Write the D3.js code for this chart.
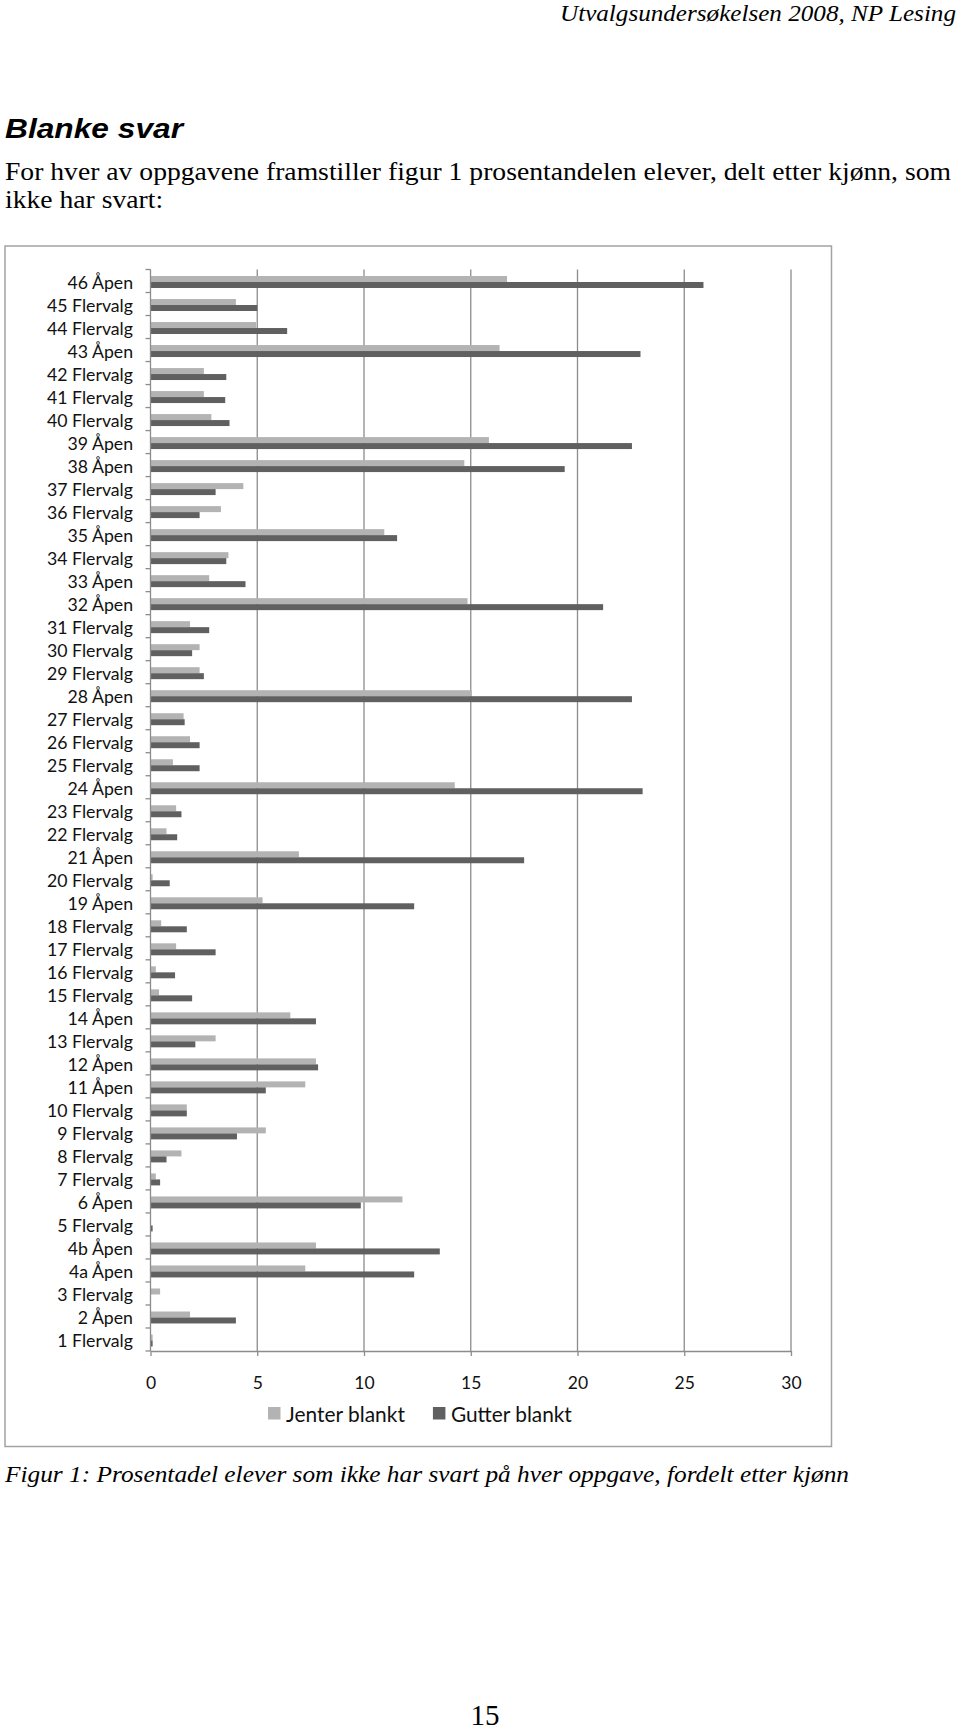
<!DOCTYPE html>
<html>
<head>
<meta charset="utf-8">
<script src="https://cdn.jsdelivr.net/npm/d3@7"></script>
<style>
  body { margin: 0; background: #fff; }
  svg { display: block; }
</style>
</head>
<body>
<svg id="page" width="960" height="1731"></svg>
<script>
// ---------- data ----------
const categories = [
  "46 Åpen","45 Flervalg","44 Flervalg","43 Åpen","42 Flervalg","41 Flervalg","40 Flervalg",
  "39 Åpen","38 Åpen","37 Flervalg","36 Flervalg","35 Åpen","34 Flervalg","33 Åpen","32 Åpen",
  "31 Flervalg","30 Flervalg","29 Flervalg","28 Åpen","27 Flervalg","26 Flervalg","25 Flervalg",
  "24 Åpen","23 Flervalg","22 Flervalg","21 Åpen","20 Flervalg","19 Åpen","18 Flervalg",
  "17 Flervalg","16 Flervalg","15 Flervalg","14 Åpen","13 Flervalg","12 Åpen","11 Åpen",
  "10 Flervalg","9 Flervalg","8 Flervalg","7 Flervalg","6 Åpen","5 Flervalg","4b Åpen",
  "4a Åpen","3 Flervalg","2 Åpen","1 Flervalg"
];
const jenter = [
  16.7, 4.0, 4.95, 16.35, 2.5, 2.5, 2.85,
  15.85, 14.7, 4.35, 3.3, 10.95, 3.65, 2.75, 14.85,
  1.85, 2.3, 2.3, 15.05, 1.55, 1.85, 1.05,
  14.25, 1.2, 0.75, 6.95, 0.1, 5.25, 0.5,
  1.2, 0.25, 0.4, 6.55, 3.05, 7.75, 7.25,
  1.7, 5.4, 1.45, 0.25, 11.8, 0.0, 7.75,
  7.25, 0.45, 1.85, 0.1
];
const gutter = [
  25.9, 5.0, 6.4, 22.95, 3.55, 3.5, 3.7,
  22.55, 19.4, 3.05, 2.3, 11.55, 3.55, 4.45, 21.2,
  2.75, 1.95, 2.5, 22.55, 1.6, 2.3, 2.3,
  23.05, 1.45, 1.25, 17.5, 0.9, 12.35, 1.7,
  3.05, 1.15, 1.95, 7.75, 2.1, 7.85, 5.4,
  1.7, 4.05, 0.75, 0.45, 9.85, 0.1, 13.55,
  12.35, 0.0, 4.0, 0.1
];
const xTicks = [0, 5, 10, 15, 20, 25, 30];
const seriesNames = ["Jenter blankt", "Gutter blankt"];
const seriesColors = ["#b3b3b3", "#606060"];

const headerText = "Utvalgsundersøkelsen 2008, NP Lesing";
const titleText = "Blanke svar";
const introLines = [
  "For hver av oppgavene framstiller figur 1 prosentandelen elever, delt etter kjønn, som",
  "ikke har svart:"
];
const captionText = "Figur 1: Prosentadel elever som ikke har svart på hver oppgave, fordelt etter kjønn";
const pageNumber = "15";

// ---------- page ----------
const svg = d3.select("#page");
const SERIF = "'Liberation Serif','Times New Roman',Times,serif";
const SANS = "'Liberation Sans',Arial,sans-serif";
const CHART_FONT = "Lato, 'Open Sans', sans-serif";

function fitText(sel, targetWidth) {
  const w = sel.node().getComputedTextLength();
  const fs = parseFloat(sel.attr("font-size"));
  sel.attr("font-size", fs * targetWidth / w);
}

// header
svg.append("text").attr("x", 560).attr("y", 21)
  .attr("font-family", SERIF).attr("font-style", "italic").attr("font-size", 23.5)
  .attr("textLength", 396).attr("lengthAdjust", "spacingAndGlyphs")
  .attr("fill", "#000").text(headerText);

// title
svg.append("text").attr("x", 5).attr("y", 138)
  .attr("font-family", SANS).attr("font-style", "italic").attr("font-weight", "bold")
  .attr("font-size", 27.5).attr("textLength", 178).attr("lengthAdjust", "spacingAndGlyphs")
  .text(titleText);

// intro paragraph
const l1 = svg.append("text").attr("x", 5).attr("y", 180)
  .attr("font-family", SERIF).attr("font-size", 24.5).text(introLines[0]);
const ratio = 946 / l1.node().getComputedTextLength();
l1.attr("textLength", 946).attr("lengthAdjust", "spacingAndGlyphs");
const l2 = svg.append("text").attr("x", 5).attr("y", 208)
  .attr("font-family", SERIF).attr("font-size", 24.5).text(introLines[1]);
l2.attr("textLength", l2.node().getComputedTextLength() * ratio).attr("lengthAdjust", "spacingAndGlyphs");

// caption
svg.append("text").attr("x", 5).attr("y", 1482)
  .attr("font-family", SERIF).attr("font-style", "italic").attr("font-size", 23.5)
  .attr("textLength", 844).attr("lengthAdjust", "spacingAndGlyphs")
  .text(captionText);

// page number
svg.append("text").attr("x", 485).attr("y", 1725).attr("text-anchor", "middle")
  .attr("font-family", SERIF).attr("font-size", 29).attr("textLength", 29)
  .attr("lengthAdjust", "spacingAndGlyphs").text(pageNumber);

// ---------- chart ----------
svg.append("rect").attr("x", 5).attr("y", 246).attr("width", 826.5).attr("height", 1200.5)
  .attr("fill", "#fff").attr("stroke", "#a3a3a3").attr("stroke-width", 1.5);

const yTop = 269.5, yBottom = 1351;
const x = d3.scaleLinear().domain([0, 30]).range([150.5, 791]);
const y = d3.scaleBand().domain(categories).range([yTop, yBottom])
  .paddingInner(0.48).paddingOuter(0.24);
const ySub = d3.scaleBand().domain(d3.range(seriesNames.length)).range([0, y.bandwidth()]);

const g = svg.append("g");
const gridColor = "#8c8c8c";

// vertical gridlines
g.append("g").selectAll("line").data(xTicks.filter(t => t > 0)).join("line")
  .attr("x1", d => x(d)).attr("x2", d => x(d))
  .attr("y1", yTop).attr("y2", yBottom)
  .attr("stroke", gridColor).attr("stroke-width", 1.3);

// bars
const rows = categories.map((c, i) => ({ cat: c, vals: [jenter[i], gutter[i]] }));
const barG = g.append("g").attr("transform", "translate(0,1)");
const rowG = barG.selectAll("g").data(rows).join("g")
  .attr("transform", r => `translate(0,${y(r.cat)})`);
rowG.selectAll("rect").data(r => r.vals).join("rect")
  .attr("x", x(0))
  .attr("y", (d, k) => ySub(k))
  .attr("width", d => x(d) - x(0))
  .attr("height", ySub.bandwidth())
  .attr("fill", (d, k) => seriesColors[k]);

// y axis line + boundary ticks
g.append("line").attr("x1", x(0)).attr("x2", x(0)).attr("y1", yTop).attr("y2", yBottom)
  .attr("stroke", gridColor).attr("stroke-width", 1.3);
const boundaries = d3.range(categories.length + 1).map(i => yTop + i * y.step());
g.append("g").selectAll("line").data(boundaries).join("line")
  .attr("x1", x(0) - 5).attr("x2", x(0)).attr("y1", d => d).attr("y2", d => d)
  .attr("stroke", gridColor).attr("stroke-width", 1.3);

// category labels
const lab = g.append("g").attr("font-family", CHART_FONT).attr("fill", "#111");
const probe = lab.append("text").attr("font-size", 20).text("45 Flervalg");
const labelSize = 20 * 86 / probe.node().getComputedTextLength();
probe.remove();
lab.selectAll("text").data(categories).join("text")
  .attr("x", 133).attr("y", d => y(d) + y.bandwidth() / 2 + 1)
  .attr("text-anchor", "end").attr("dominant-baseline", "central")
  .attr("font-size", labelSize)
  .text(d => d);

// x axis
const xAxis = g.append("g").attr("transform", `translate(0,${yBottom})`)
  .call(d3.axisBottom(x).tickValues(xTicks).tickSize(5).tickSizeOuter(0).tickPadding(21));
xAxis.select(".domain").attr("stroke", gridColor).attr("stroke-width", 1.3);
xAxis.selectAll(".tick line").attr("stroke", gridColor).attr("stroke-width", 1.3);
xAxis.selectAll(".tick text").attr("font-family", CHART_FONT).attr("font-size", 17.5).attr("fill", "#111");

// legend
const leg = g.append("g").attr("font-family", CHART_FONT);
let lx = 268;
seriesNames.forEach((name, k) => {
  leg.append("rect").attr("x", lx).attr("y", 1407).attr("width", 12.5).attr("height", 12.5)
    .attr("fill", seriesColors[k]);
  const t = leg.append("text").attr("x", lx + 18).attr("y", 1413.5)
    .attr("dominant-baseline", "central").attr("font-size", 20).attr("fill", "#111").text(name);
  fitText(t, k === 0 ? 119 : 121);
  lx = lx + 18 + t.node().getComputedTextLength() + 28;
});
</script>
</body>
</html>
